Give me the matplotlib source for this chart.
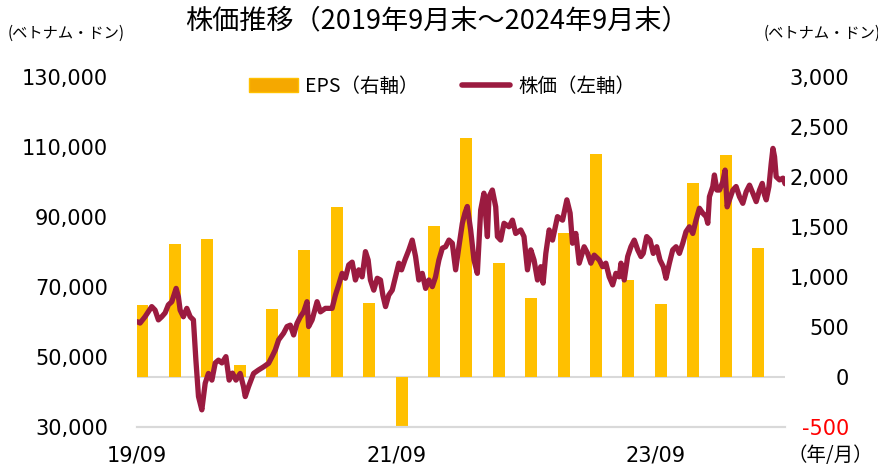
import numpy as np
import matplotlib
matplotlib.use('Agg')
import matplotlib.pyplot as plt
from matplotlib.patches import Patch
from matplotlib.lines import Line2D

plt.rcParams['font.family'] = ['DejaVu Sans', 'Noto Sans CJK JP']
jp = ['Noto Sans CJK JP', 'DejaVu Sans']

# EPS (VND), quarterly, 2019Q3 .. 2024Q2
eps = [720, 1330, 1380, 120, 680, 1270, 1700, 740, -500, 1510,
       2390, 1140, 790, 1440, 2230, 970, 730, 1940, 2220, 1290]
eps_month = np.arange(len(eps)) * 3 + 0.5   # months after 2019/09 end

# share price (VND), months after 2019/09 end
px_month = [0.0, 0.28, 0.74, 1.36, 1.67, 1.98, 2.29, 2.60, 2.90, 3.22,
            3.62, 3.83, 3.99, 4.29, 4.61, 4.92, 5.22, 5.45, 5.69, 6.00,
            6.31, 6.61, 6.93, 7.24, 7.54, 7.86, 8.23, 8.53, 8.84, 9.16,
            9.55, 9.86, 10.02, 10.32, 10.79, 11.25, 11.72, 12.18, 12.50, 12.80,
            13.11, 13.57, 13.89, 14.19, 14.50, 14.81, 15.12, 15.43, 15.74, 15.89,
            16.21, 16.67, 16.98, 17.44, 18.06, 18.37, 18.67, 18.99, 19.29, 19.60,
            19.92, 20.22, 20.53, 20.84, 21.15, 21.40, 21.61, 21.92, 22.24, 22.54,
            22.76, 23.01, 23.31, 23.63, 23.93, 24.24, 24.49, 24.80, 25.17, 25.48,
            25.79, 26.09, 26.41, 26.72, 27.02, 27.34, 27.64, 27.95, 28.27, 28.57,
            28.88, 29.19, 29.50, 29.80, 30.12, 30.36, 30.58, 30.89, 31.20, 31.51,
            31.82, 32.12, 32.44, 32.59, 32.90, 33.21, 33.37, 33.67, 33.98, 34.44,
            34.76, 35.06, 35.53, 35.83, 36.15, 36.46, 36.76, 37.08, 37.38, 37.60,
            37.85, 38.16, 38.47, 38.93, 39.40, 39.80, 40.10, 40.32, 40.63, 40.94,
            41.40, 41.72, 42.02, 42.33, 42.80, 43.11, 43.41, 43.72, 44.04, 44.34,
            44.65, 44.81, 45.11, 45.43, 45.73, 46.04, 46.36, 46.66, 46.87, 47.19,
            47.50, 47.80, 48.12, 48.42, 48.73, 48.98, 49.29, 49.60, 49.91, 50.22,
            50.53, 50.83, 51.14, 51.46, 51.76, 52.07, 52.38, 52.69, 52.85, 53.00,
            53.31, 53.46, 53.69, 53.93, 54.24, 54.45, 54.64, 54.85, 55.17, 55.47,
            55.78, 56.09, 56.40, 56.71, 57.02, 57.33, 57.64, 57.89, 58.10, 58.26,
            58.51, 58.72, 58.88, 59.03, 59.18, 59.49, 59.81, 60.0]
price = [60100, 59700, 61500, 64400, 63400, 60600, 61500, 62600, 64900, 65800,
         69600, 67200, 63400, 61500, 63900, 61500, 60600, 49100, 38700, 34900,
         42500, 45300, 43400, 48300, 49100, 48300, 50100, 43400, 45400, 43400,
         45300, 41500, 38700, 41500, 45300, 46300, 47200, 48200, 50100, 52000,
         54900, 56800, 58700, 59100, 56300, 59600, 61500, 62900, 65800, 58700,
         60600, 65800, 62900, 63900, 63900, 67700, 70600, 73900, 72500, 76300,
         77100, 72000, 74900, 72900, 80100, 77700, 72000, 69100, 72500, 72000,
         67700, 64400, 67700, 69100, 72900, 76800, 74900, 77700, 80600, 83400,
         78700, 72000, 73900, 69600, 72000, 70100, 72900, 77700, 81100, 81500,
         83400, 82500, 74900, 81500, 88200, 91100, 93000, 86300, 77700, 73900,
         92000, 96800, 84400, 95800, 97700, 92900, 84400, 83400, 88200, 87200,
         89100, 85300, 86300, 84400, 74900, 80600, 77700, 72000, 75800, 71100,
         79600, 86300, 83400, 90100, 89100, 94900, 91100, 82500, 85300, 76800,
         81500, 79600, 76800, 79100, 77700, 75800, 76800, 72900, 70600, 73900,
         72900, 76800, 72000, 78700, 81500, 83400, 80600, 78700, 79600, 84400,
         83400, 79600, 81500, 77700, 75800, 72500, 76800, 80600, 81500, 79600,
         82500, 85800, 87200, 85300, 89100, 92500, 91100, 90100, 88200, 95800,
         98700, 102000, 97700, 97700, 100100, 103400, 92900, 94900, 97700, 98700,
         95800, 93900, 97200, 99100, 96800, 94400, 97700, 99600, 96300, 94900,
         98700, 105300, 109600, 107200, 101500, 100600, 101100, 99500]

xtick_pos = [0, 24, 48]
xtick_lab = ['19/09', '21/09', '23/09']

bar_col = '#FFC000'
line_col = '#9B1B40'
grid_col = '#D9D9D9'

fig = plt.figure(figsize=(8.79, 4.68), dpi=100)
ax = fig.add_axes([0.1559, 0.0876, 0.7372, 0.7479])
ax2 = ax.twinx()

ax2.bar(eps_month, eps, width=1.1, color=bar_col, zorder=2)
ax2.axhline(0, color=grid_col, lw=1.5, zorder=1)
ax2.set_ylim(-500, 3000)
ax2.set_yticks(np.arange(-500, 3001, 500))
ax2.set_yticklabels([f'{v:,}' for v in range(-500, 3001, 500)])
ax2.get_yticklabels()[0].set_color('red')
ax2.tick_params(axis='y', length=0, labelsize=15, pad=46)
for lab in ax2.get_yticklabels():
    lab.set_horizontalalignment('right')

ax.plot(px_month, price, color=line_col, lw=3.8, solid_joinstyle='round',
        solid_capstyle='round')
ax.set_ylim(30000, 130000)
ax.set_yticks(np.arange(30000, 130001, 20000))
ax.set_yticklabels([f'{v:,}' for v in range(30000, 130001, 20000)])
ax.tick_params(axis='y', length=0, labelsize=15, pad=21)
ax.set_xlim(0, 60)
ax.set_xticks(xtick_pos)
ax.set_xticklabels(xtick_lab)
ax.tick_params(axis='x', length=0, labelsize=15, pad=13)

ax.set_zorder(ax2.get_zorder() + 1)
ax.patch.set_visible(False)
for a in (ax, ax2):
    for s in ['top', 'left', 'right']:
        a.spines[s].set_visible(False)
    a.spines['bottom'].set_color(grid_col)
    a.spines['bottom'].set_linewidth(1.5)

fig.text(437 / 879, 1 - 21 / 468, '株価推移（2019年9月末～2024年9月末）',
         ha='center', va='center', fontsize=19.5, family=jp)
fig.text(66 / 879, 1 - 33 / 468, '(ベトナム・ドン)', ha='center', va='center',
         fontsize=11, family=jp)
fig.text(822 / 879, 1 - 33 / 468, '(ベトナム・ドン)', ha='center', va='center',
         fontsize=11, family=jp)
fig.text(830 / 879, 1 - 455 / 468, '（年/月）', ha='center', va='center',
         fontsize=14, family=jp)

handles = [Patch(facecolor='#F5A800', edgecolor='#FFC000'),
           Line2D([0], [0], color=line_col, lw=4, solid_capstyle='round')]
fig.legend(handles, ['EPS（右軸）', '株価（左軸）'], loc='center',
           bbox_to_anchor=(442 / 879, 1 - 86 / 468), ncol=2, frameon=False,
           prop={'family': jp, 'size': 14}, handlelength=2.5,
           columnspacing=2.2, handletextpad=0.4)

fig.savefig('out.png', dpi=100)
